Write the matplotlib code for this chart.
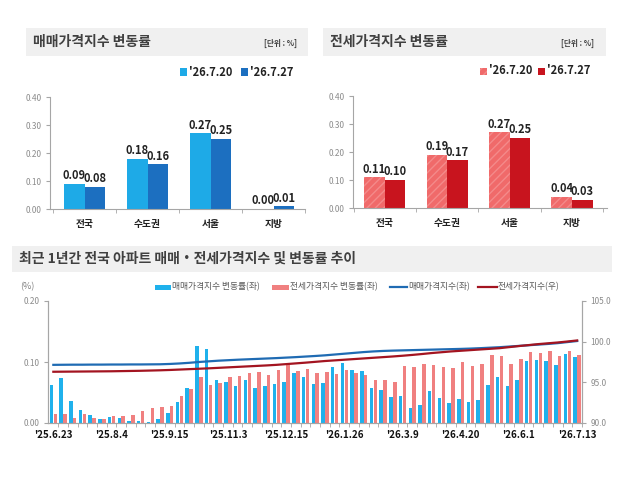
import matplotlib
matplotlib.use("Agg")
import matplotlib.pyplot as plt
from matplotlib.patches import Rectangle
from matplotlib.lines import Line2D

plt.rcParams['font.family'] = ['Noto Sans CJK KR', 'DejaVu Sans']
plt.rcParams['hatch.linewidth'] = 1.0

W, H = 640, 493

# top panels
regions = ['전국', '수도권', '서울', '지방']
legend_dates = ["'26.7.20", "'26.7.27"]
sale_prev = [0.09, 0.18, 0.27, 0.00]
sale_now = [0.08, 0.16, 0.25, 0.01]
jeonse_prev = [0.11, 0.19, 0.27, 0.04]
jeonse_now = [0.10, 0.17, 0.25, 0.03]

# bottom panel (weekly, Chuseok week skipped)
week_labels = ["'25.6.23", "'25.8.4", "'25.9.15", "'25.11.3", "'25.12.15",
               "'26.1.26", "'26.3.9", "'26.4.20", "'26.6.1", "'26.7.13"]
sale_rate = [0.063, 0.074, 0.036, 0.022, 0.013, 0.006, 0.010, 0.009, 0.003, 0.004,
             0.001, 0.007, 0.016, 0.034, 0.058, 0.127, 0.122, 0.070, 0.068, 0.060,
             0.071, 0.058, 0.060, 0.064, 0.068, 0.082, 0.075, 0.064, 0.066, 0.092,
             0.098, 0.087, 0.086, 0.057, 0.054, 0.042, 0.045, 0.024, 0.029, 0.053,
             0.041, 0.033, 0.040, 0.034, 0.037, 0.062, 0.076, 0.060, 0.070, 0.101,
             0.103, 0.102, 0.095, 0.113, 0.108]
jeonse_rate = [0.015, 0.015, 0.008, 0.015, 0.008, 0.007, 0.011, 0.012, 0.013, 0.020,
               0.025, 0.027, 0.028, 0.044, 0.055, 0.075, 0.062, 0.066, 0.076, 0.077,
               0.082, 0.084, 0.078, 0.087, 0.095, 0.086, 0.089, 0.082, 0.084, 0.081,
               0.087, 0.082, 0.079, 0.071, 0.070, 0.067, 0.093, 0.091, 0.096, 0.095,
               0.092, 0.090, 0.100, 0.093, 0.096, 0.111, 0.110, 0.097, 0.105, 0.117,
               0.114, 0.118, 0.110, 0.118, 0.111]
sale_index = [97.15, 97.16, 97.17, 97.17, 97.18, 97.18, 97.19, 97.19, 97.20, 97.20,
              97.21, 97.22, 97.26, 97.32, 97.40, 97.50, 97.58, 97.66, 97.72, 97.78,
              97.83, 97.88, 97.93, 97.98, 98.04, 98.10, 98.17, 98.24, 98.32, 98.42,
              98.52, 98.62, 98.72, 98.80, 98.86, 98.90, 98.93, 98.96, 98.99, 99.02,
              99.05, 99.08, 99.11, 99.15, 99.20, 99.26, 99.32, 99.40, 99.48, 99.56,
              99.64, 99.72, 99.82, 99.95, 100.08]
jeonse_index = [96.30, 96.31, 96.32, 96.33, 96.34, 96.35, 96.36, 96.38, 96.40, 96.42,
                96.45, 96.48, 96.52, 96.57, 96.62, 96.67, 96.72, 96.78, 96.84, 96.90,
                96.96, 97.02, 97.08, 97.15, 97.24, 97.33, 97.42, 97.52, 97.62, 97.70,
                97.78, 97.86, 97.94, 98.02, 98.10, 98.18, 98.27, 98.37, 98.48, 98.60,
                98.70, 98.80, 98.88, 98.96, 99.04, 99.12, 99.20, 99.33, 99.46, 99.58,
                99.70, 99.80, 99.90, 100.02, 100.15]

SKY, NAVY = '#1EAAE7', '#1C6FC0'
PINK, RED = '#F06A6A', '#C8141E'
HATCH_C = '#F48A8A'
GRID_GRAY = '#A6A6A6'
TXT = '#404040'


def fx(x):
    return x / W


def fy(y):
    return 1 - y / H


def px_axes(x0, y0, x1, y1):
    return fig.add_axes([fx(x0), fy(y1), fx(x1 - x0), (y1 - y0) / H])


def header(x0, y0, x1, y1, title, unit=None, unit_x=None):
    fig.add_artist(Rectangle((fx(x0), fy(y1)), fx(x1 - x0), (y1 - y0) / H,
                             transform=fig.transFigure, facecolor='#F0F0F0',
                             edgecolor='none', zorder=0))
    yc = (y0 + y1) / 2
    fig.text(fx(x0 + 7), fy(yc), title, fontsize=10, fontweight='bold',
             color=TXT, va='center', ha='left')
    if unit:
        fig.text(fx(unit_x), fy(yc + 1), unit, fontsize=5.5, fontweight='bold',
                 color=TXT, va='center', ha='right')


def square_legend(items, y):
    for x, color, hatch, label in items:
        fig.add_artist(Rectangle((fx(x), fy(y + 3.5)), fx(7), 7 / H,
                                 transform=fig.transFigure, facecolor=color,
                                 edgecolor=HATCH_C if hatch else 'none',
                                 hatch=hatch, linewidth=0))
        fig.text(fx(x + 9), fy(y), label, fontsize=8, fontweight='bold',
                 color='#222222', va='center', ha='left')


def style_bar_axes(ax, xlim):
    ax.set_xlim(*xlim)
    ax.set_ylim(0, 0.40)
    ax.set_yticks([0, 0.1, 0.2, 0.3, 0.4])
    ax.set_yticklabels([f'{v:.2f}' for v in [0, 0.1, 0.2, 0.3, 0.4]])
    ax.set_xticks(range(len(regions)))
    ax.set_xticklabels(regions, fontsize=7, fontweight='bold', color='#222222')
    ax.set_xticks([i - 0.5 for i in range(len(regions) + 1)], minor=True)
    ax.tick_params(axis='x', which='major', length=0, pad=7)
    ax.tick_params(axis='x', which='minor', length=3, color=GRID_GRAY)
    ax.tick_params(axis='y', length=3, color=GRID_GRAY, labelsize=6,
                   labelcolor='#8C8C8C', pad=3)
    for s in ['top', 'right']:
        ax.spines[s].set_visible(False)
    for s in ['left', 'bottom']:
        ax.spines[s].set_color(GRID_GRAY)
        ax.spines[s].set_linewidth(0.8)


def grouped_bars(ax, prev, now, c1, c2, hatch=None):
    bw = 0.33
    for i in range(len(regions)):
        ax.bar(i - bw / 2, prev[i], bw, color=c1, hatch=hatch,
               edgecolor=HATCH_C if hatch else c1, linewidth=0)
        ax.bar(i + bw / 2, now[i], bw, color=c2, linewidth=0)
        ax.text(i - bw / 2, prev[i] + 0.006, f'{prev[i]:.2f}', ha='center',
                va='bottom', fontsize=8, fontweight='bold', color='#222222')
        ax.text(i + bw / 2, now[i] + 0.006, f'{now[i]:.2f}', ha='center',
                va='bottom', fontsize=8, fontweight='bold', color='#222222')


fig = plt.figure(figsize=(6.4, 4.93), dpi=100)
fig.patch.set_facecolor('white')

# ---- top left: sale price change
header(26, 28, 308, 56, '매매가격지수 변동률', '[단위 : %]', 297)
square_legend([(180, SKY, None, legend_dates[0]),
               (241, NAVY, None, legend_dates[1])], 72)
ax1 = px_axes(50, 97, 305, 209)
grouped_bars(ax1, sale_prev, sale_now, SKY, NAVY)
style_bar_axes(ax1, (-0.55, 3.5))

# ---- top right: jeonse price change
header(323, 28, 606, 56, '전세가격지수 변동률', '[단위 : %]', 594)
square_legend([(480, PINK, '////', legend_dates[0]),
               (538, RED, None, legend_dates[1])], 71)
ax2 = px_axes(353, 96, 607, 208)
grouped_bars(ax2, jeonse_prev, jeonse_now, PINK, RED, hatch='////')
style_bar_axes(ax2, (-0.51, 3.56))

# ---- bottom: weekly trend
header(12, 246, 612, 272, '최근 1년간 전국 아파트 매매・전세가격지수 및 변동률 추이')
fig.text(fx(20), fy(287), '(%)', fontsize=6.5, color='#7F7F7F', va='center')

ax3 = px_axes(48, 301, 582, 423)
n = len(sale_rate)
xs = list(range(n))
bw = 0.36
ax3.bar([x - 0.2 for x in xs], sale_rate, bw, color='#1FB1EC', linewidth=0)
ax3.bar([x + 0.2 for x in xs], jeonse_rate, bw, color='#F08080', linewidth=0)
ax3.set_ylim(0, 0.20)
ax3.set_yticks([0, 0.1, 0.2])
ax3.set_yticklabels(['0.00', '0.10', '0.20'])
ax3.set_xlim(-0.55, 54.15)
ax3.set_xticks(list(range(0, n, 6)))
ax3.set_xticklabels(week_labels, fontsize=7, fontweight='bold', color='#111111')
ax3.set_xticks([x + 0.5 for x in xs], minor=True)
ax3.tick_params(axis='x', which='major', length=0, pad=5)
ax3.tick_params(axis='x', which='minor', length=3, color=GRID_GRAY)
ax3.tick_params(axis='y', length=3, color=GRID_GRAY, labelsize=6,
                labelcolor='#8C8C8C', pad=3)
ax3.spines['top'].set_visible(False)
for s in ['left', 'bottom', 'right']:
    ax3.spines[s].set_color(GRID_GRAY)
    ax3.spines[s].set_linewidth(0.8)

ax4 = ax3.twinx()
ax4.plot(xs, sale_index, color='#1F6BB3', linewidth=1.6)
ax4.plot(xs, jeonse_index, color='#A31420', linewidth=1.6)
ax4.set_ylim(90, 105)
ax4.set_yticks([90, 95, 100, 105])
ax4.set_yticklabels(['90.0', '95.0', '100.0', '105.0'])
ax4.tick_params(axis='y', length=3, color=GRID_GRAY, labelsize=6,
                labelcolor='#8C8C8C', pad=3)
ax4.spines['top'].set_visible(False)
for s in ['left', 'bottom', 'right']:
    ax4.spines[s].set_color(GRID_GRAY)
    ax4.spines[s].set_linewidth(0.8)

# bottom legend
ly = 287
fig.add_artist(Rectangle((fx(155), fy(ly + 2.5)), fx(16), 5 / H,
                         transform=fig.transFigure, facecolor='#1FB1EC',
                         edgecolor='none'))
fig.text(fx(172), fy(ly), '매매가격지수 변동률(좌)', fontsize=6.3,
         color='#595959', va='center')
fig.add_artist(Rectangle((fx(272), fy(ly + 2.5)), fx(17), 5 / H,
                         transform=fig.transFigure, facecolor='#F08080',
                         edgecolor='none'))
fig.text(fx(290), fy(ly), '전세가격지수 변동률(좌)', fontsize=6.3,
         color='#595959', va='center')
fig.add_artist(Line2D([fx(390), fx(407)], [fy(ly), fy(ly)],
                      transform=fig.transFigure, color='#1F6BB3', linewidth=1.6))
fig.text(fx(408), fy(ly), '매매가격지수(좌)', fontsize=6.3,
         color='#595959', va='center')
fig.add_artist(Line2D([fx(478), fx(497)], [fy(ly), fy(ly)],
                      transform=fig.transFigure, color='#A31420', linewidth=1.6))
fig.text(fx(498), fy(ly), '전세가격지수(우)', fontsize=6.3,
         color='#595959', va='center')

fig.savefig('out.png', dpi=100)
